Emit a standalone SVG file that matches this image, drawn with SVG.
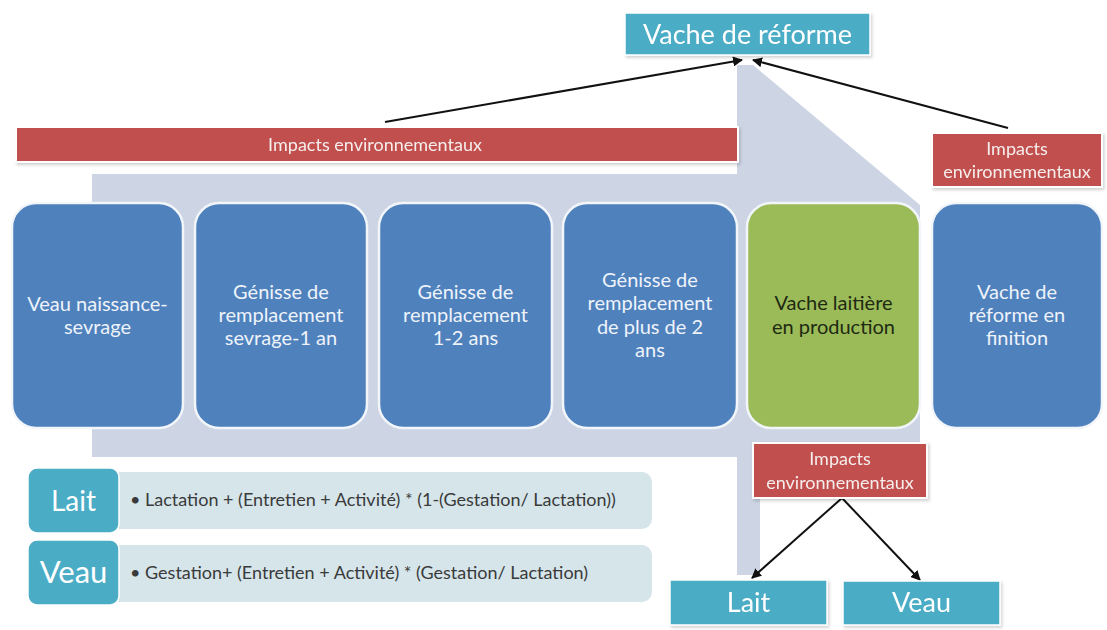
<svg xmlns="http://www.w3.org/2000/svg" width="1107" height="630" viewBox="0 0 1107 630">
  <style>
    .t { font-family: Lato, "Liberation Sans", Arial, sans-serif; text-anchor: middle; }
    .box { fill: #4F81BD; stroke: #F2F6FB; stroke-width: 2.5; }
    .green { fill: #9BBB59; stroke: #F2F6FB; stroke-width: 2.5; }
    .red { fill: #C0504D; stroke: #FFFFFF; stroke-width: 2; }
    .aqua { fill: #4BACC6; stroke: #FFFFFF; stroke-width: 1.5; }
    .bt { font-size: 20px; fill: #EEF3FA; }
    .gt { font-size: 20px; fill: #1E2A12; }
    .rt { font-size: 18px; fill: #F6EDED; }
    .ft { font-family: Lato, "Liberation Sans", Arial, sans-serif; font-size: 18px; fill: #3A3A3A; }
    .conn { stroke: #111111; stroke-width: 2; fill: none; }
  </style>
  <defs>
    <marker id="ah" viewBox="0 0 10 10" refX="9" refY="5" markerWidth="5" markerHeight="5" orient="auto-start-reverse">
      <path d="M0,0 L10,5 L0,10 z" fill="#111111"/>
    </marker>
    <filter id="sh" x="-10%" y="-10%" width="120%" height="130%">
      <feDropShadow dx="1.5" dy="2" stdDeviation="1.5" flood-color="#000000" flood-opacity="0.18"/>
    </filter>
  </defs>

  <rect x="0" y="0" width="1107" height="630" fill="#FFFFFF"/>

  <!-- background arrow shape -->
  <polygon id="background" points="92,174 737,174 737,65 753,65 920,205 920,457 760,457 760,575 737,575 737,457 92,457" fill="#CDD5E5"/>

  <g id="connectors">
    <line class="conn" x1="385" y1="122" x2="742" y2="60" marker-end="url(#ah)"/>
    <line class="conn" x1="1008" y1="128" x2="753" y2="60" marker-end="url(#ah)"/>
    <line class="conn" x1="842" y1="498" x2="752" y2="578" marker-end="url(#ah)"/>
    <line class="conn" x1="842" y1="498" x2="920" y2="580" marker-end="url(#ah)"/>
  </g>

  <g id="vache-reforme-top" filter="url(#sh)">
    <rect class="aqua" x="625" y="13" width="245" height="42"/>
    <text class="t" x="747.5" y="44" font-size="27" fill="#FFFFFF">Vache de réforme</text>
  </g>

  <g id="impacts-top" filter="url(#sh)">
    <rect class="red" x="16" y="127" width="722" height="35"/>
    <text class="t rt" x="375" y="151" font-size="19.5">Impacts environnementaux</text>
  </g>

  <g id="impacts-right" filter="url(#sh)">
    <rect class="red" x="932" y="133" width="170" height="54"/>
    <text class="t rt" x="1017" y="155">Impacts</text>
    <text class="t rt" x="1017" y="178">environnementaux</text>
  </g>

  <g id="node-veau">
    <rect class="box" x="12" y="203" width="171" height="225" rx="24"/>
    <text class="t bt" x="97.5" y="311">Veau naissance-</text>
    <text class="t bt" x="97.5" y="334">sevrage</text>
  </g>

  <g id="node-genisse-1">
    <rect class="box" x="195" y="203" width="172" height="225" rx="24"/>
    <text class="t bt" x="281" y="299">Génisse de</text>
    <text class="t bt" x="281" y="322">remplacement</text>
    <text class="t bt" x="281" y="345">sevrage-1 an</text>
  </g>

  <g id="node-genisse-2">
    <rect class="box" x="379" y="203" width="173" height="225" rx="24"/>
    <text class="t bt" x="465.5" y="299">Génisse de</text>
    <text class="t bt" x="465.5" y="322">remplacement</text>
    <text class="t bt" x="465.5" y="345">1-2 ans</text>
  </g>

  <g id="node-genisse-3">
    <rect class="box" x="563" y="203" width="174" height="225" rx="24"/>
    <text class="t bt" x="650" y="287">Génisse de</text>
    <text class="t bt" x="650" y="310">remplacement</text>
    <text class="t bt" x="650" y="334">de plus de 2</text>
    <text class="t bt" x="650" y="357">ans</text>
  </g>

  <g id="node-vache-laitiere">
    <rect class="green" x="747" y="203" width="173" height="225" rx="24"/>
    <text class="t gt" x="833.5" y="310">Vache laitière</text>
    <text class="t gt" x="833.5" y="334">en production</text>
  </g>

  <g id="node-vache-finition">
    <rect class="box" x="932" y="203" width="170" height="225" rx="24"/>
    <text class="t bt" x="1017" y="299">Vache de</text>
    <text class="t bt" x="1017" y="322">réforme en</text>
    <text class="t bt" x="1017" y="345">finition</text>
  </g>

  <g id="impacts-bottom" filter="url(#sh)">
    <rect class="red" x="753" y="443" width="174" height="55"/>
    <text class="t rt" x="840" y="465">Impacts</text>
    <text class="t rt" x="840" y="489">environnementaux</text>
  </g>

  <g id="formula-lait">
    <rect x="105" y="472" width="547" height="57" rx="10" fill="#D5E5EA"/>
    <rect class="aqua" x="28" y="468" width="91" height="65" rx="9"/>
    <text class="t" x="73.5" y="511" font-size="28" fill="#FFFFFF">Lait</text>
    <text class="ft" x="130" y="506">• Lactation + (Entretien + Activité) * (1-(Gestation/ Lactation))</text>
  </g>

  <g id="formula-veau">
    <rect x="105" y="545" width="547" height="57" rx="10" fill="#D5E5EA"/>
    <rect class="aqua" x="28" y="540" width="91" height="65" rx="9"/>
    <text class="t" x="73.5" y="583" font-size="31" fill="#FFFFFF">Veau</text>
    <text class="ft" x="130" y="579">• Gestation+ (Entretien + Activité) * (Gestation/ Lactation)</text>
  </g>

  <g id="output-lait" filter="url(#sh)">
    <rect class="aqua" x="670" y="580" width="157" height="45"/>
    <text class="t" x="748.5" y="612" font-size="27" fill="#FFFFFF">Lait</text>
  </g>

  <g id="output-veau" filter="url(#sh)">
    <rect class="aqua" x="843" y="581" width="157" height="44"/>
    <text class="t" x="921.5" y="612" font-size="27" fill="#FFFFFF">Veau</text>
  </g>
</svg>
